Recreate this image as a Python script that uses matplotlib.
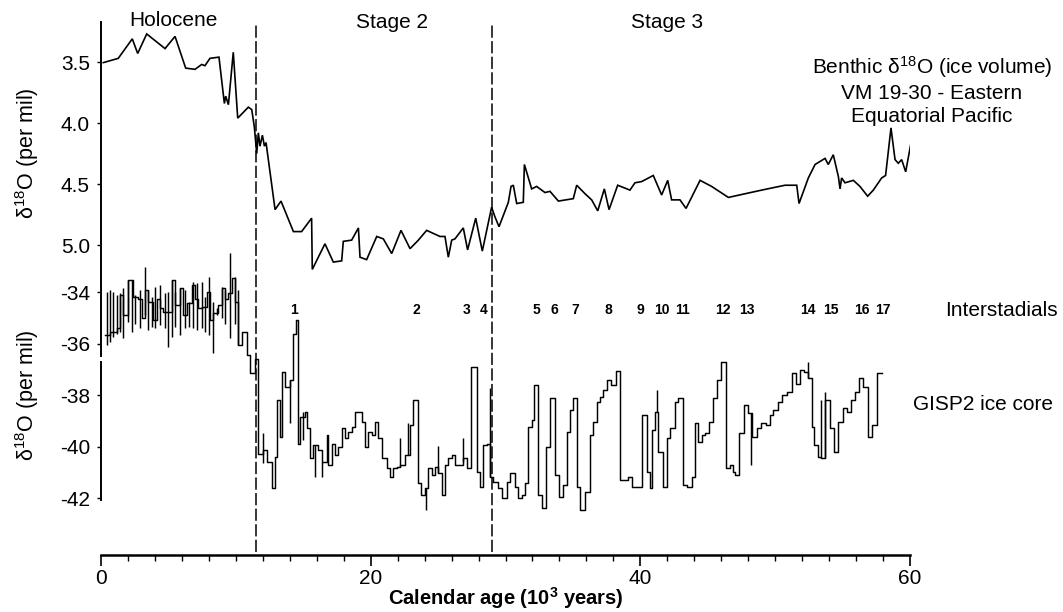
import matplotlib
matplotlib.use("Agg")
import matplotlib.pyplot as plt
from matplotlib.ticker import MultipleLocator

plt.rcParams["font.family"] = ["Liberation Sans", "DejaVu Sans"]
plt.rcParams["mathtext.fontset"] = "custom"
plt.rcParams["mathtext.rm"] = "Liberation Sans"
plt.rcParams["mathtext.it"] = "Liberation Sans:italic"
plt.rcParams["mathtext.bf"] = "Liberation Sans:bold"
plt.rcParams["axes.unicode_minus"] = False

# ── Benthic d18O, VM 19-30 (per mil, plotted inverted) ───────────────────────
benthic_age = [0.17, 1.28, 2.32, 2.72, 3.39, 4.75, 5.49, 6.28, 6.97, 7.47, 7.71, 8.08,
               8.75, 9.15, 9.25, 9.45, 9.81, 10.14, 10.93, 11.18, 11.37, 11.55, 11.67,
               11.79, 11.97, 12.12, 12.24, 12.91, 13.35, 14.27, 14.88, 15.62, 15.67,
               16.61, 17.23, 17.85, 17.97, 18.59, 19.09, 19.21, 19.70, 20.45, 20.94,
               21.56, 22.25, 22.92, 23.54, 24.15, 25.14, 25.51, 25.76, 26.01, 26.25,
               26.87, 27.19, 27.79, 28.28, 28.97, 29.22, 29.52, 30.21, 30.41, 30.58,
               30.83, 31.32, 31.40, 31.94, 32.31, 32.93, 33.30, 33.92, 35.03, 35.28,
               35.90, 36.39, 36.84, 37.33, 37.68, 38.32, 39.23, 39.60, 40.10, 40.96,
               41.58, 42.03, 42.32, 42.94, 43.39, 44.43, 45.29, 46.53, 47.76, 49.00,
               50.73, 51.60, 51.77, 52.46, 52.96, 53.70, 53.94, 54.31, 54.69, 54.81,
               54.93, 55.18, 55.80, 56.29, 56.86, 57.28, 57.90, 58.19, 58.59, 58.89,
               59.13, 59.38, 59.68, 60.13]
benthic_val = [3.505, 3.47, 3.31, 3.43, 3.27, 3.39, 3.29, 3.55, 3.56, 3.52, 3.53, 3.47,
               3.46, 3.84, 3.78, 3.85, 3.42, 3.96, 3.87, 3.89, 4.03, 4.25, 4.08,
               4.19, 4.10, 4.19, 4.16, 4.71, 4.64, 4.89, 4.89, 4.78, 5.20,
               4.99, 5.14, 5.13, 4.97, 4.96, 4.86, 5.10, 5.12, 4.93, 4.95,
               5.07, 4.88, 5.03, 4.96, 4.88, 4.93, 4.93, 5.10, 4.96, 4.95,
               4.86, 5.04, 4.78, 5.05, 4.69, 4.77, 4.85, 4.65, 4.52, 4.51,
               4.66, 4.65, 4.34, 4.54, 4.52, 4.57, 4.56, 4.64, 4.62, 4.51,
               4.58, 4.63, 4.72, 4.54, 4.71, 4.51, 4.55, 4.49, 4.48, 4.43,
               4.59, 4.47, 4.63, 4.63, 4.70, 4.47, 4.52, 4.61, 4.58, 4.55,
               4.51, 4.51, 4.66, 4.45, 4.34, 4.29, 4.34, 4.26, 4.44, 4.54,
               4.45, 4.49, 4.47, 4.52, 4.60, 4.55, 4.45, 4.43, 4.04, 4.30,
               4.33, 4.30, 4.40, 4.13]

# ── GISP2 ice core d18O (step record) ────────────────────────────────────────
gisp_age = [0.30, 0.67, 1.16, 1.41, 1.66, 2.03, 2.40, 2.77, 3.02, 3.26, 3.51, 3.88,
            4.13, 4.38, 4.62, 5.24, 5.49, 5.86, 6.11, 6.35, 6.72, 6.97, 7.22, 7.47,
            7.84, 8.08, 8.33, 8.70, 8.95, 9.20, 9.44, 9.69, 9.94, 10.19, 10.43, 10.80,
            11.05, 11.42, 11.67, 12.04, 12.29, 12.66, 12.91, 13.03, 13.28, 13.40,
            13.65, 14.02, 14.26, 14.45, 14.59, 14.76, 15.13, 15.26, 15.51, 15.75,
            16.12, 16.37, 16.74, 16.86, 17.11, 17.35, 17.60, 17.85, 18.10, 18.34,
            18.59, 18.84, 19.33, 19.58, 19.83, 20.07, 20.32, 20.57, 20.87, 21.19,
            21.43, 21.68, 21.93, 22.18, 22.55, 22.92, 23.16, 23.49, 23.73, 24.03,
            24.28, 24.52, 24.77, 25.01, 25.26, 25.51, 25.76, 26.01, 26.25, 26.87,
            27.12, 27.44, 27.86, 28.11, 28.36, 28.60, 28.85, 29.10, 29.47, 29.72,
            30.09, 30.33, 30.70, 30.95, 31.20, 31.45, 31.69, 31.94, 32.14, 32.39,
            32.68, 32.98, 33.30, 33.67, 33.97, 34.29, 34.54, 34.79, 35.03, 35.28,
            35.53, 35.90, 36.27, 36.51, 36.76, 37.01, 37.26, 37.51, 37.83, 38.17,
            38.49, 39.11, 39.41, 40.10, 40.47, 40.72, 40.89, 41.09, 41.34, 41.71,
            41.96, 42.21, 42.58, 42.83, 43.19, 43.44, 43.81, 44.05, 44.30, 44.55,
            44.80, 45.09, 45.41, 45.66, 45.98, 46.33, 46.65, 46.90, 47.02, 47.32,
            47.68, 48.01, 48.31, 48.68, 48.93, 49.30, 49.60, 49.86, 50.19, 50.54,
            50.88, 51.25, 51.55, 51.85, 52.11, 52.46, 52.71, 52.91, 53.15, 53.40,
            53.70, 54.06, 54.39, 54.69, 55.06, 55.31, 55.63, 55.92, 56.22, 56.54,
            56.86, 57.21, 57.53, 57.90]
gisp_val = [-35.67, -35.54, -35.41, -34.12, -34.89, -33.53, -34.18, -34.25, -35.02,
            -33.92, -34.38, -35.09, -34.25, -34.63, -34.76, -33.53, -34.50, -33.86,
            -34.89, -34.44, -33.73, -34.25, -34.63, -34.57, -33.99, -35.09, -34.83,
            -34.50, -33.86, -34.25, -34.05, -33.47, -34.38, -36.06, -35.54, -36.45,
            -37.16, -36.58, -40.27, -40.14, -40.59, -41.62, -40.39, -38.19, -39.62,
            -37.09, -37.68, -37.42, -35.61, -35.09, -39.88, -38.84, -38.65, -39.29,
            -40.46, -39.94, -40.14, -40.59, -39.55, -40.72, -39.88, -40.33, -40.01,
            -39.29, -39.68, -39.42, -39.23, -38.65, -39.04, -40.01, -39.42, -39.55,
            -39.04, -39.68, -40.46, -40.85, -41.17, -40.85, -40.78, -40.72, -40.33,
            -39.16, -38.19, -41.43, -41.88, -41.62, -40.85, -41.11, -40.78, -41.04,
            -41.88, -40.72, -40.46, -40.33, -40.72, -40.46, -40.85, -36.90, -40.98,
            -41.56, -39.94, -39.88, -41.17, -41.37, -41.62, -42.01, -41.37, -41.04,
            -41.56, -42.01, -41.88, -41.43, -39.23, -38.97, -37.61, -41.88, -42.40,
            -40.01, -38.13, -41.11, -41.95, -41.50, -39.42, -38.58, -38.13, -41.56,
            -42.47, -41.75, -39.55, -39.04, -38.26, -38.06, -37.81, -37.42, -37.61,
            -37.07, -41.30, -41.17, -41.56, -38.78, -40.98, -41.62, -39.36, -38.65,
            -40.20, -41.56, -39.68, -39.29, -38.26, -38.13, -41.50, -41.56, -41.17,
            -39.10, -39.81, -39.55, -39.49, -39.04, -38.13, -37.42, -36.71, -40.85,
            -40.72, -40.98, -41.11, -39.49, -38.39, -38.71, -39.62, -39.29, -39.10,
            -39.16, -38.78, -38.58, -38.26, -38.00, -37.87, -37.16, -37.55, -37.03,
            -37.09, -37.35, -39.23, -39.94, -40.40, -40.46, -38.19, -39.29, -40.20,
            -39.04, -38.52, -38.65, -38.19, -37.87, -37.35, -37.68, -39.62, -39.16,
            -37.16, -37.16]

# short vertical strokes of the GISP2 record (age, top, bottom)
stroke_age = [0.42, 0.67, 0.91, 1.16, 1.41, 1.66, 2.03, 2.27, 2.52, 2.89, 3.26, 3.51,
              3.76, 4.00, 4.38, 4.75, 4.94, 5.24, 5.49, 5.86, 6.23, 6.53, 6.85, 7.10,
              7.47, 7.71, 8.01, 8.33, 8.58, 8.95, 9.20, 9.57, 9.94, 10.19,
              12.04, 14.02, 15.00, 15.87, 16.41, 22.18, 22.80, 24.08, 25.01, 26.87,
              28.85, 41.27, 48.23, 52.46, 53.40, 53.70]
stroke_top = [-33.99, -33.92, -33.99, -34.12, -34.05, -33.86, -33.53, -33.53, -34.12,
              -33.92, -33.02, -33.92, -34.18, -33.79, -33.73, -34.05, -33.99, -33.53,
              -33.99, -33.86, -33.92, -34.38, -33.60, -33.66, -33.60, -34.18, -33.40,
              -34.38, -34.63, -33.79, -33.92, -32.50, -33.40, -33.92,
              -39.49, -37.42, -38.65, -39.94, -40.59, -39.68, -39.10, -41.62, -39.99,
              -39.68, -37.74, -37.81, -38.71, -36.71, -38.19, -37.87]
stroke_bot = [-36.06, -35.93, -35.73, -35.61, -35.54, -35.80, -35.15, -35.54, -35.22,
              -35.41, -34.89, -35.48, -35.35, -35.41, -35.28, -35.41, -36.12, -35.73,
              -35.35, -35.67, -35.41, -35.35, -35.41, -35.48, -35.41, -35.54, -35.67,
              -36.38, -34.89, -35.02, -35.22, -35.80, -35.22, -36.06,
              -40.65, -39.10, -39.75, -41.17, -41.17, -40.78, -40.33, -42.47, -41.04,
              -40.60, -41.17, -38.65, -40.72, -37.35, -40.46, -40.46]

# ── Interstadial numbering ───────────────────────────────────────────────────
interstadial_age = [14.3, 23.4, 27.1, 28.4, 32.3, 33.6, 35.2, 37.6, 40.0, 41.6,
                    43.1, 46.1, 47.9, 52.4, 54.1, 56.4, 58.0]
interstadial_lbl = [str(i) for i in range(1, 18)]

stage_bounds = [11.5, 29.0]
benthic_ticks = [3.5, 4.0, 4.5, 5.0]
gisp_ticks = [-34, -36, -38, -40, -42]

# ── Canvas ───────────────────────────────────────────────────────────────────
W, H = 1063, 612
fig = plt.figure(figsize=(W / 100, H / 100), dpi=100)
fig.patch.set_facecolor("white")
pos = [101 / W, 57 / H, 809 / W, 533 / H]

ax_g = fig.add_axes(pos)
ax_b = fig.add_axes(pos)
ax_b.patch.set_alpha(0)

for ax in (ax_g, ax_b):
    ax.set_xlim(0, 60)
    ax.spines["top"].set_visible(False)
    ax.spines["right"].set_visible(False)

ax_g.set_ylim(-44.21, -23.51)
ax_b.set_ylim(7.541, 3.172)

ax_b.spines["bottom"].set_visible(False)
ax_b.tick_params(axis="x", which="both", bottom=False, labelbottom=False)
ax_b.spines["left"].set_bounds(3.172, 5.91)
ax_g.spines["left"].set_bounds(-42.08, -36.72)
ax_b.spines["left"].set_linewidth(1.4)
ax_g.spines["left"].set_linewidth(1.4)
ax_g.spines["bottom"].set_linewidth(1.8)

# curves
ax_b.plot(benthic_age, benthic_val, color="black", lw=1.2, solid_joinstyle="miter")
ax_g.plot(gisp_age, gisp_val, color="black", lw=1.05, drawstyle="steps-post")
ax_g.vlines(stroke_age, stroke_bot, stroke_top, color="black", lw=1.05)

# stage boundaries
for xb in stage_bounds:
    ax_g.axvline(xb, ymin=0.006, ymax=0.994, color="black", lw=1.1,
                 linestyle=(0, (8, 2.2)))

# ticks
ax_b.set_yticks(benthic_ticks)
ax_b.set_yticklabels([f"{v:.1f}" for v in benthic_ticks])
ax_g.set_yticks(gisp_ticks)
ax_g.set_yticklabels([str(v) for v in gisp_ticks])
for ax in (ax_g, ax_b):
    ax.tick_params(axis="y", direction="out", length=3, width=1.0, pad=5,
                   labelsize=15)

ax_g.set_xticks([0, 20, 40, 60])
ax_g.xaxis.set_minor_locator(MultipleLocator(2))
ax_g.tick_params(axis="x", which="major", direction="out", length=8, width=1.2,
                 pad=2, labelsize=15)
ax_g.tick_params(axis="x", which="minor", direction="out", length=4, width=1.0)
ax_g.set_xlabel("Calendar age (10$^{\\mathbf{3}}$ years)", fontsize=14.5,
                fontweight="bold", labelpad=-2)

# interstadial numbers
for a, lbl in zip(interstadial_age, interstadial_lbl):
    ax_g.text(a, -34.70, lbl, ha="center", va="center", fontsize=10,
              fontweight="bold")

# labels
fig.text(27 / W, 1 - 153 / H, "δ$^{18}$O (per mil)", rotation=90,
         ha="center", va="center", fontsize=15.5)
fig.text(27 / W, 1 - 395 / H, "δ$^{18}$O (per mil)", rotation=90,
         ha="center", va="center", fontsize=15.5)

fig.text(173 / W, 1 - 20 / H, "Holocene", ha="center", va="center", fontsize=15)
fig.text(392 / W, 1 - 22 / H, "Stage 2", ha="center", va="center", fontsize=15)
fig.text(667 / W, 1 - 22 / H, "Stage 3", ha="center", va="center", fontsize=15)

fig.text(932 / W, 1 - 90 / H,
         "Benthic δ$^{18}$O (ice volume)\nVM 19-30 - Eastern\nEquatorial Pacific",
         ha="center", va="center", fontsize=15, linespacing=1.25)
fig.text(945 / W, 1 - 310 / H, "Interstadials", ha="left", va="center", fontsize=15)
fig.text(913 / W, 1 - 405 / H, "GISP2 ice core", ha="left", va="center", fontsize=15)

fig.savefig("out.png", dpi=100, facecolor="white")
plt.close(fig)
